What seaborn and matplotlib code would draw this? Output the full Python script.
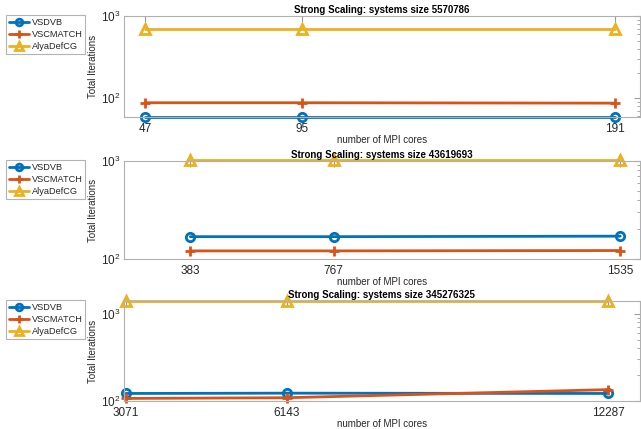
import matplotlib
matplotlib.use("Agg")
import matplotlib.pyplot as plt
import matplotlib.ticker as mticker
import seaborn as sns
import pandas as pd

# ---- data ----
series_names = ["VSDVB", "VSCMATCH", "AlyaDefCG"]

cores_1 = [47, 95, 191]
vsdvb_1 = [59, 59, 59]
vscmatch_1 = [88, 88, 87]
alya_1 = [690, 690, 690]

cores_2 = [383, 767, 1535]
vsdvb_2 = [169, 169, 171]
vscmatch_2 = [121, 121, 122]
alya_2 = [1030, 1030, 1030]

cores_3 = [3071, 6143, 12287]
vsdvb_3 = [122, 123, 122]
vscmatch_3 = [107, 109, 135]
alya_3 = [1400, 1400, 1400]

titles = ["Strong Scaling: systems size 5570786",
          "Strong Scaling: systems size 43619693",
          "Strong Scaling: systems size 345276325"]

panels = [
    (cores_1, [vsdvb_1, vscmatch_1, alya_1]),
    (cores_2, [vsdvb_2, vscmatch_2, alya_2]),
    (cores_3, [vsdvb_3, vscmatch_3, alya_3]),
]

xlims = [(40.3, 198.6), (204, 1588), (3025, 12900)]
ylims = [(59, 1000), (100, 1000), (100, 1400)]

colors = ["#0072BD", "#D95319", "#EDB120"]
markers = ["o", "+", "^"]
msizes = [6, 7.5, 7]

sns.set_style("white")
plt.rcParams["font.family"] = ["Liberation Sans", "DejaVu Sans"]
plt.rcParams["mathtext.fontset"] = "custom"
plt.rcParams["mathtext.rm"] = "Liberation Sans"

fig = plt.figure(figsize=(6.41, 4.29), dpi=100)
W, H = 641.0, 429.0
ax_left, ax_right = 123.5, 640.0
rows = [(16, 117), (161, 259), (301, 401)]

axis_gray = "#9a9a9a"
text_col = "#262626"

for i, ((top, bot), (cores, vals)) in enumerate(zip(rows, panels)):
    ax = fig.add_axes([ax_left / W, 1 - bot / H, (ax_right - ax_left) / W, (bot - top) / H])
    for name, v, c, m, ms in zip(series_names, vals, colors, markers, msizes):
        df = pd.DataFrame({"cores": cores, "iters": v})
        kw = dict(markersize=ms, markeredgewidth=2, markeredgecolor=c)
        if m != "+":
            kw["markerfacecolor"] = "none"
        sns.lineplot(data=df, x="cores", y="iters", ax=ax, color=c, marker=m,
                     linewidth=2, label=name, clip_on=False, **kw)
    ax.set_yscale("log")
    ax.set_xlim(*xlims[i])
    ax.set_ylim(*ylims[i])
    ax.set_xticks(cores)
    ax.set_xticklabels([str(c) for c in cores])
    ax.yaxis.set_major_locator(mticker.LogLocator(base=10, numticks=10))
    ax.yaxis.set_minor_locator(mticker.LogLocator(base=10, subs=range(2, 10), numticks=10))
    ax.yaxis.set_minor_formatter(mticker.NullFormatter())
    ax.tick_params(axis="both", which="both", direction="in", top=True, right=True,
                   color=axis_gray, labelcolor=text_col)
    ax.tick_params(axis="both", which="major", length=4, labelsize=8.5, pad=2)
    ax.tick_params(axis="x", which="major", pad=4)
    ax.tick_params(axis="y", which="minor", length=2)
    for sp in ax.spines.values():
        sp.set_color("#b0b0b0")
        sp.set_linewidth(0.8)
    ax.set_xlabel("number of MPI cores", fontsize=7, color=text_col, labelpad=0.5)
    ax.set_ylabel("Total Iterations", fontsize=7, color=text_col, labelpad=2)
    ax.set_title(titles[i], fontsize=7, fontweight="bold", color="black", pad=2)
    leg = ax.legend(loc="upper left", bbox_to_anchor=(-0.2275, 1.01), borderaxespad=0,
                    fontsize=6.6, frameon=True, fancybox=False, handlelength=2.2,
                    labelspacing=0.35, borderpad=0.3, handletextpad=0.3,
                    markerscale=0.8)
    leg.get_frame().set_edgecolor("#a0a0a0")
    leg.get_frame().set_linewidth(0.8)
    for t in leg.get_texts():
        t.set_color(text_col)

fig.savefig("out.png", dpi=100)
